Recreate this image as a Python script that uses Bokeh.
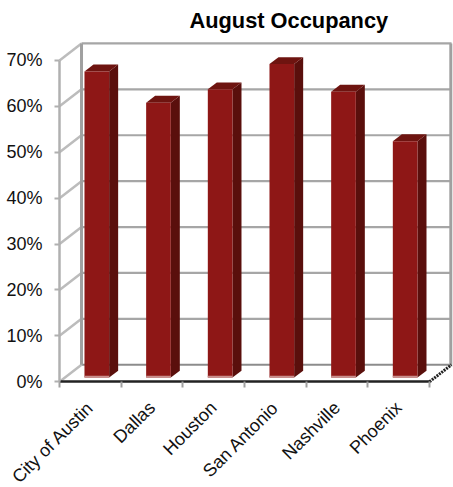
from bokeh.plotting import figure
from bokeh.models import Range1d, FixedTicker, Title
from bokeh.embed import file_html
from bokeh.resources import INLINE

categories = ["City of Austin", "Dallas", "Houston", "San Antonio", "Nashville", "Phoenix"]
occupancy = [0.667, 0.599, 0.628, 0.683, 0.623, 0.515]
y_ticks = [0.0, 0.1, 0.2, 0.3, 0.4, 0.5, 0.6, 0.7]

# depth of the pseudo-3D box and bars, in data units
WALL_DX, WALL_DY = 0.357, 0.037
BAR_DX, BAR_DY = 0.146, 0.015
BAR_L, BAR_R, BAR_BASE = 0.405, 0.805, 0.009
n = len(categories)

W, H, TOP = 453, 487, 36
LEFT, ZERO = 59, 381      # canvas position of the axes' crossing
PX_X, PX_Y = 61.67, 460.0  # canvas pixels per category / per 100%

p = figure(width=W, height=H, output_backend="svg", toolbar_location=None,
           x_range=Range1d(-LEFT / PX_X, (W - LEFT) / PX_X),
           y_range=Range1d(-(H - ZERO) / PX_Y, (ZERO - TOP) / PX_Y),
           min_border_left=0, min_border_right=0, min_border_top=TOP, min_border_bottom=0)
p.outline_line_color = None
p.xgrid.visible = False
p.ygrid.visible = False

p.title = Title(text="August Occupancy", text_font="Liberation Sans", text_font_size="21.8px",
                text_font_style="bold", text_color="#000000", align="left", offset=189, standoff=10)

# back wall
p.segment(x0=[WALL_DX] * len(y_ticks), x1=[n + WALL_DX] * len(y_ticks),
          y0=[t + WALL_DY for t in y_ticks], y1=[t + WALL_DY for t in y_ticks],
          line_color=["#8c8c8c"] + ["#a6a6a6"] * (len(y_ticks) - 1), line_width=2.2)
# side wall
p.segment(x0=[0] * len(y_ticks), x1=[WALL_DX] * len(y_ticks),
          y0=y_ticks, y1=[t + WALL_DY for t in y_ticks],
          line_color="#bcbcbc", line_width=2.5)
p.segment(x0=[WALL_DX, n + WALL_DX - 0.012], x1=[WALL_DX, n + WALL_DX - 0.012],
          y0=[WALL_DY, WALL_DY], y1=[0.7 + WALL_DY, 0.7 + WALL_DY],
          line_color="#a0a0a0", line_width=3)
# floor edge at right
p.line([n, n + WALL_DX], [0, WALL_DY], line_color="#222222", line_width=3, line_dash="2 1")

# bars
xs_front = [i + BAR_L for i in range(n)]
xe_front = [i + BAR_R for i in range(n)]
tops = [v + BAR_BASE for v in occupancy]
p.patches(xs=[[a, b, b + BAR_DX, b + BAR_DX] for a, b in zip(xe_front, xe_front)],
          ys=[[BAR_BASE, t, t + BAR_DY, BAR_BASE + BAR_DY] for t in tops],
          fill_color="#5a0f0c", line_color=None)
p.patches(xs=[[a, b, b + BAR_DX, a + BAR_DX] for a, b in zip(xs_front, xe_front)],
          ys=[[t, t, t + BAR_DY, t + BAR_DY] for t in tops],
          fill_color="#6e1410", line_color=None)
p.quad(left=xs_front, right=xe_front, bottom=[BAR_BASE] * n, top=tops,
       fill_color="#8e1716", line_color=None)
p.quad(left=xs_front, right=xe_front, bottom=[BAR_BASE] * n, top=[BAR_BASE + 0.004] * n,
       fill_color="#c98f8d", line_color=None)

# axes
ax = p.yaxis[0]
ax.ticker = FixedTicker(ticks=y_ticks)
ax.fixed_location = 0
ax.major_label_overrides = {t: f"{round(t * 100)}%" for t in y_ticks}
ax.major_label_text_font = "Liberation Sans"
ax.major_label_text_font_size = "18px"
ax.major_label_text_color = "#111111"
ax.major_label_standoff = 12
ax.axis_line_color = "#b0b0b0"
ax.axis_line_width = 2.5
ax.major_tick_line_color = "#b0b0b0"
ax.major_tick_line_width = 2
ax.major_tick_in = 0
ax.major_tick_out = 5
ax.minor_tick_line_color = None
ax.bounds = (0, 0.7)

bx = p.xaxis[0]
centers = [i + 0.5 for i in range(n)]
bx.ticker = FixedTicker(ticks=centers, minor_ticks=list(range(n + 1)))
bx.fixed_location = 0
bx.major_label_overrides = dict(zip(centers, categories))
bx.major_label_orientation = 0.785
bx.major_label_text_font = "Liberation Sans"
bx.major_label_text_font_size = "18px"
bx.major_label_text_color = "#111111"
bx.major_label_standoff = 17
bx.axis_line_color = "#222222"
bx.axis_line_width = 2.5
bx.major_tick_line_color = None
bx.minor_tick_line_color = "#a0a0a0"
bx.minor_tick_line_width = 2
bx.minor_tick_in = 0
bx.minor_tick_out = 6
bx.bounds = (0, n)

open("out.html", "w").write(file_html(p, INLINE))
